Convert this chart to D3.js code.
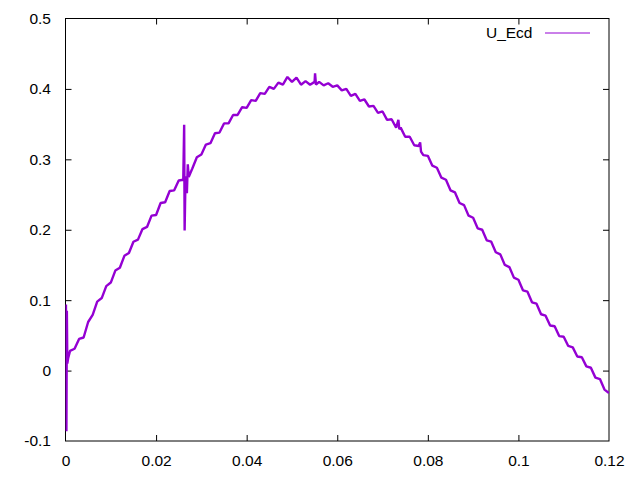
<!DOCTYPE html>
<html>
<head>
<meta charset="utf-8">
<script src="https://cdn.jsdelivr.net/npm/d3@7"></script>
<style>
  html, body { margin: 0; padding: 0; background: #fff; }
  svg { display: block; }
  text { font-family: "Liberation Sans", Arial, sans-serif; font-size: 15.5px; fill: #000; }
</style>
</head>
<body>
<script>
// ---- data ----
const seriesName = "U_Ecd";
const xTicks = [0, 0.02, 0.04, 0.06, 0.08, 0.1, 0.12];
const xTickLabels = ["0", "0.02", "0.04", "0.06", "0.08", "0.1", "0.12"];
const yTicks = [-0.1, 0, 0.1, 0.2, 0.3, 0.4, 0.5];
const yTickLabels = ["-0.1", "0", "0.1", "0.2", "0.3", "0.4", "0.5"];

const xValues = [
  0, 0.0001, 0.0002, 0.0003, 0.0004, 0.0006,
  0.001, 0.002, 0.003, 0.004, 0.005, 0.006, 0.007, 0.008, 0.009, 0.010,
  0.011, 0.012, 0.013, 0.014, 0.015, 0.016, 0.017, 0.018, 0.019, 0.020,
  0.021, 0.022, 0.023, 0.024, 0.025, 0.026,
  0.0262, 0.0263, 0.0265, 0.0268, 0.0270, 0.0272,
  0.028, 0.029, 0.030, 0.031, 0.032, 0.033, 0.034, 0.035, 0.036, 0.037,
  0.038, 0.039, 0.040, 0.041, 0.042, 0.043, 0.044, 0.045, 0.046, 0.047,
  0.048, 0.049, 0.050, 0.051, 0.052, 0.053, 0.054, 0.055, 0.0551, 0.0553,
  0.056, 0.057, 0.058, 0.059, 0.060, 0.061, 0.062, 0.063, 0.064, 0.065,
  0.066, 0.067, 0.068, 0.069, 0.070, 0.071, 0.072, 0.073, 0.0735, 0.0737,
  0.074, 0.075, 0.076, 0.077, 0.078, 0.0783, 0.0785, 0.079, 0.080,
  0.081, 0.082, 0.083, 0.084, 0.085, 0.086, 0.087, 0.088, 0.089, 0.090,
  0.091, 0.092, 0.093, 0.094, 0.095, 0.096, 0.097, 0.098, 0.099, 0.100,
  0.101, 0.102, 0.103, 0.104, 0.105, 0.106, 0.107, 0.108, 0.109, 0.110,
  0.111, 0.112, 0.113, 0.114, 0.115, 0.116, 0.117, 0.118, 0.119, 0.120
];
const yValues = [
  0.000, 0.094, -0.086, 0.085, 0.010, 0.018,
  0.028, 0.031, 0.045, 0.047, 0.069, 0.079, 0.098, 0.103, 0.120, 0.125,
  0.142, 0.146, 0.163, 0.167, 0.183, 0.186, 0.201, 0.204, 0.220, 0.221,
  0.238, 0.239, 0.255, 0.256, 0.270, 0.271,
  0.349, 0.199, 0.276, 0.252, 0.293, 0.275,
  0.287, 0.303, 0.307, 0.321, 0.323, 0.337, 0.338, 0.351, 0.351, 0.363,
  0.363, 0.374, 0.373, 0.384, 0.383, 0.394, 0.393, 0.403, 0.400, 0.409,
  0.406, 0.417, 0.410, 0.416, 0.406, 0.411, 0.406, 0.410, 0.422, 0.406,
  0.410, 0.405, 0.408, 0.403, 0.405, 0.398, 0.400, 0.390, 0.393, 0.383,
  0.385, 0.375, 0.376, 0.366, 0.368, 0.356, 0.357, 0.345, 0.356, 0.343,
  0.345, 0.332, 0.332, 0.320, 0.319, 0.324, 0.311, 0.306, 0.305,
  0.291, 0.288, 0.274, 0.271, 0.256, 0.253, 0.238, 0.235, 0.220, 0.217,
  0.202, 0.200, 0.185, 0.183, 0.168, 0.165, 0.150, 0.147, 0.132, 0.129,
  0.114, 0.112, 0.097, 0.095, 0.080, 0.078, 0.064, 0.063, 0.049, 0.048,
  0.035, 0.033, 0.020, 0.019, 0.006, 0.004, -0.010, -0.012, -0.027, -0.032
];

// ---- layout ----
const W = 640, H = 480;
const plot = { left: 65.5, right: 609, top: 18.5, bottom: 441 };
const tickLen = 6;
const lineColor = "#9400d3";

const svg = d3.select("body").append("svg").attr("width", W).attr("height", H);
svg.append("rect").attr("width", W).attr("height", H).attr("fill", "#fff");

const x = d3.scaleLinear().domain([0, 0.12]).range([plot.left, plot.right]);
const y = d3.scaleLinear().domain([-0.1, 0.5]).range([plot.bottom, plot.top]);

// axes (gnuplot style: inward ticks mirrored on all sides)
const fmtX = (d, i) => xTickLabels[i];
const fmtY = (d, i) => yTickLabels[i];

const axB = svg.append("g").attr("transform", `translate(0,${plot.bottom})`)
  .call(d3.axisBottom(x).tickValues(xTicks).tickFormat(fmtX).tickSizeInner(-tickLen).tickSizeOuter(0).tickPadding(14));
const axT = svg.append("g").attr("transform", `translate(0,${plot.top})`)
  .call(d3.axisTop(x).tickValues(xTicks).tickFormat("").tickSizeInner(-tickLen).tickSizeOuter(0));
const axL = svg.append("g").attr("transform", `translate(${plot.left},0)`)
  .call(d3.axisLeft(y).tickValues(yTicks).tickFormat(fmtY).tickSizeInner(-tickLen).tickSizeOuter(0).tickPadding(14.5));
const axR = svg.append("g").attr("transform", `translate(${plot.right},0)`)
  .call(d3.axisRight(y).tickValues(yTicks).tickFormat("").tickSizeInner(-tickLen).tickSizeOuter(0));

[axB, axT, axL, axR].forEach(g => {
  g.select(".domain").remove();
  g.selectAll("line").attr("stroke", "#000").attr("stroke-width", 1);
  g.selectAll("text").attr("font-family", "Liberation Sans, Arial, sans-serif").attr("font-size", 15.5).attr("fill", "#000");
});
axB.selectAll(".tick").filter(d => d === 0 || d === 0.12).select("line").remove();
axT.selectAll(".tick").filter(d => d === 0 || d === 0.12).select("line").remove();
axL.selectAll(".tick").filter(d => d === -0.1 || d === 0.5).select("line").remove();
axR.selectAll(".tick").filter(d => d === -0.1 || d === 0.5).select("line").remove();

// frame
svg.append("rect")
  .attr("x", plot.left).attr("y", plot.top)
  .attr("width", plot.right - plot.left).attr("height", plot.bottom - plot.top)
  .attr("fill", "none").attr("stroke", "#000").attr("stroke-width", 1);

// data line
const pts = xValues.map((xv, i) => [xv, yValues[i]]);
svg.append("defs").append("clipPath").attr("id", "clip")
  .append("rect").attr("x", plot.left).attr("y", plot.top)
  .attr("width", plot.right - plot.left).attr("height", plot.bottom - plot.top);
svg.append("path")
  .datum(pts)
  .attr("clip-path", "url(#clip)")
  .attr("fill", "none")
  .attr("stroke", lineColor)
  .attr("stroke-width", 2.4)
  .attr("stroke-linejoin", "bevel")
  .attr("d", d3.line().x(d => x(d[0])).y(d => y(d[1])));

// legend
svg.append("text").attr("x", 532.5).attr("y", 38).attr("text-anchor", "end").text(seriesName);
svg.append("line").attr("x1", 545).attr("x2", 590).attr("y1", 33).attr("y2", 33)
  .attr("stroke", lineColor).attr("stroke-width", 1);
</script>
</body>
</html>
